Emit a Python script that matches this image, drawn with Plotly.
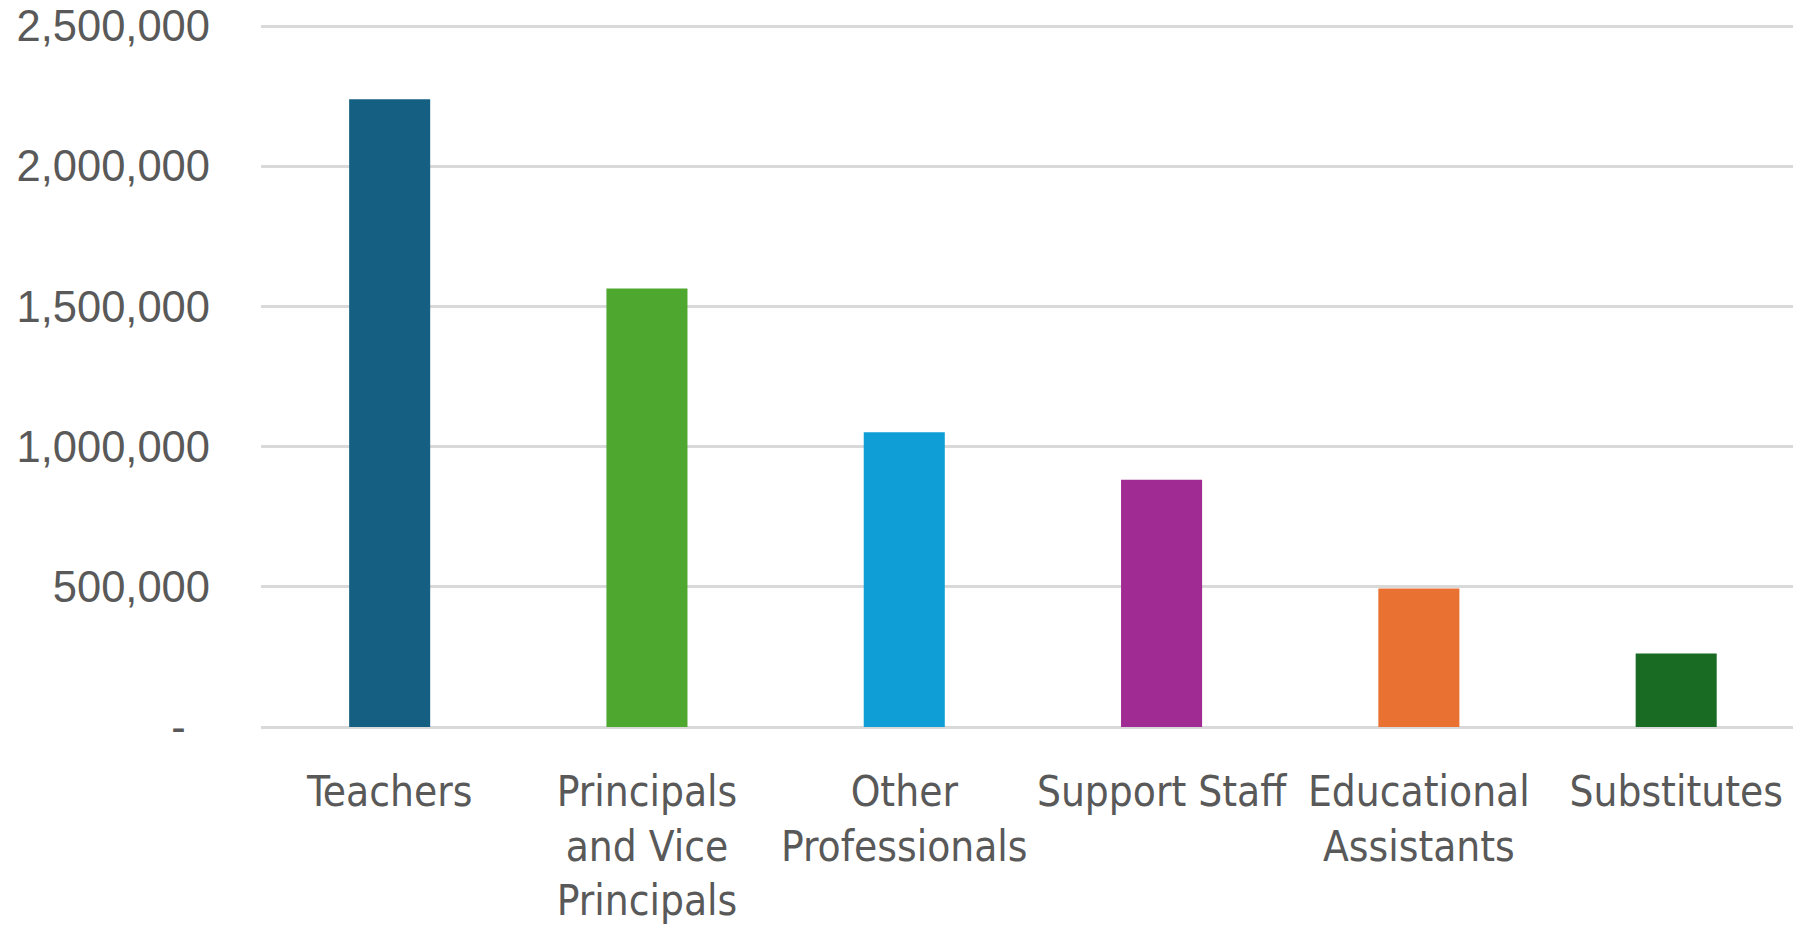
import plotly.graph_objects as go

categories = ["Teachers", "Principals<br>and Vice<br>Principals", "Other<br>Professionals",
              "Support Staff", "Educational<br>Assistants", "Substitutes"]
values = [2239000, 1564000, 1051000, 882000, 494000, 262000]
colors = ["#156082", "#4EA72E", "#0F9ED5", "#A02B93", "#E97132", "#196B24"]
y_tickvals = [0, 500000, 1000000, 1500000, 2000000, 2500000]
y_ticktext = ["-\u00a0\u00a0", "500,000", "1,000,000", "1,500,000", "2,000,000", "2,500,000"]

fig = go.Figure(go.Bar(
    x=list(range(len(categories))),
    y=values,
    marker=dict(color=colors, line=dict(width=0)),
    width=0.315,
    hoverinfo="skip",
))

fig.update_layout(
    width=1793, height=925,
    margin=dict(l=261, r=0, t=23, b=196),
    plot_bgcolor="white", paper_bgcolor="white",
    showlegend=False,
    xaxis=dict(
        range=[-0.5, 5.454],
        tickmode="array",
        tickvals=list(range(len(categories))),
        ticktext=categories,
        showgrid=False, zeroline=False, showline=False,
        ticks="", ticklabelstandoff=36,
        tickfont=dict(family="DejaVu Sans Condensed", size=42, color="#595959"),
    ),
    yaxis=dict(
        range=[0, 2510700],
        tickmode="array",
        tickvals=y_tickvals,
        ticktext=y_ticktext,
        showgrid=True, gridcolor="#D9D9D9", gridwidth=3,
        zeroline=True, zerolinecolor="#D9D9D9", zerolinewidth=3,
        showline=False, ticks="", ticklabelstandoff=50,
        tickfont=dict(family="Liberation Sans", size=43.5, color="#595959"),
    ),
)

fig.write_html("out.html")
